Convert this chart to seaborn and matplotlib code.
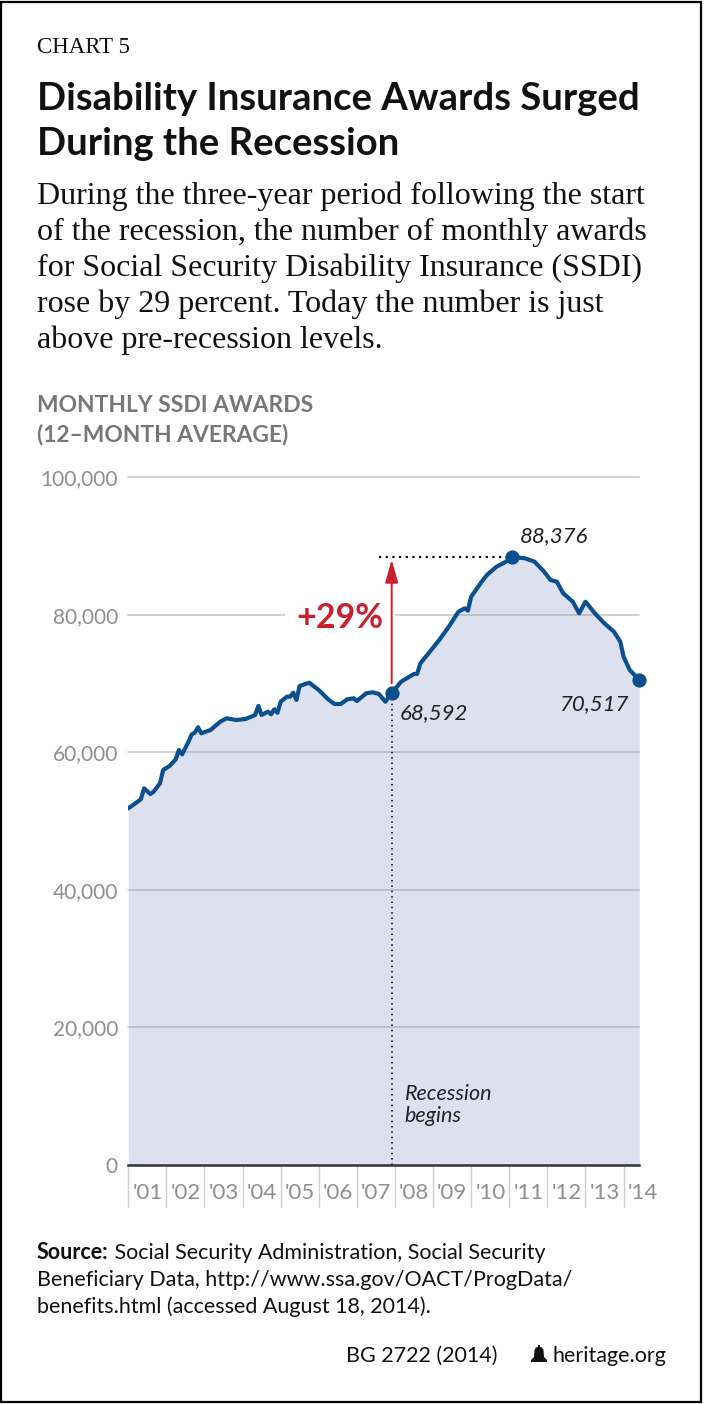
import pandas as pd
import matplotlib.pyplot as plt
import matplotlib.transforms as mtransforms
from matplotlib.patches import Rectangle, Polygon
import seaborn as sns

# monthly SSDI awards, 12-month average
months = ['2001-01', '2001-03', '2001-05', '2001-06', '2001-08', '2001-09', '2001-11', '2001-12',
          '2002-02', '2002-04', '2002-05', '2002-06', '2002-08', '2002-09', '2002-10', '2002-11', '2002-12',
          '2003-03', '2003-06', '2003-08', '2003-11',
          '2004-02', '2004-05', '2004-06', '2004-07', '2004-09', '2004-10', '2004-11', '2004-12',
          '2005-01', '2005-03', '2005-04', '2005-05', '2005-06', '2005-07', '2005-10',
          '2006-01', '2006-04', '2006-06', '2006-08', '2006-10', '2006-12',
          '2007-01', '2007-04', '2007-06', '2007-08', '2007-10', '2007-12',
          '2008-03', '2008-07', '2008-08', '2008-09', '2008-12',
          '2009-03', '2009-06', '2009-09', '2009-11', '2009-12',
          '2010-01', '2010-04', '2010-06', '2010-09', '2010-12',
          '2011-02', '2011-06', '2011-09', '2011-12',
          '2012-02', '2012-04', '2012-06', '2012-09', '2012-11',
          '2013-01', '2013-04', '2013-07', '2013-10', '2013-12',
          '2014-01', '2014-03', '2014-06']
awards = [51850, 52470, 53150, 54750, 53920, 54260, 55480, 57410,
          58000, 58970, 60320, 59690, 61520, 62600, 62840, 63620, 62750,
          63230, 64430, 64930, 64680,
          64830, 65410, 66720, 65410, 65890, 65510, 66240, 65740,
          67340, 68070, 68070, 68650, 67590, 69620, 70100,
          69040, 67690, 67010, 67010, 67690, 67830,
          67440, 68560, 68710, 68460, 67340, 68592,
          70250, 71370, 71370, 72920, 74610,
          76310, 78240, 80420, 80920, 80570,
          82600, 84550, 85760, 86960, 87690,
          88376, 88180, 87690, 86240,
          85030, 84780, 83100, 81880, 80190,
          81880, 80190, 78730, 77510, 76060,
          73880, 71950, 70517]

callout_months = ['2007-12', '2011-02', '2014-06']
callout_values = [68592, 88376, 70517]

years = list(range(2001, 2015))
year_labels = ["'" + str(y)[2:] for y in years]
y_ticks = [0, 20000, 40000, 60000, 80000, 100000]

sns.set_style('white')
plt.rcParams['font.family'] = ['Lato', 'DejaVu Sans']

W, H = 705, 1404
def fx(px):
    return px / W
def fy(px):
    return 1 - px / H

fig = plt.figure(figsize=(W / 100, H / 100), dpi=100)
fig.patch.set_facecolor('white')
ax = fig.add_axes([fx(128.3), fy(1165), fx(639.3) - fx(128.3), (1165 - 477) / H])

blue = '#0b4f8e'
fill = '#dde1ef'
red = '#c8202f'
grey = '#8f8f8f'
ink = '#111111'

data = pd.DataFrame({'month': pd.to_datetime(months), 'awards': awards})
calls = pd.DataFrame({'month': pd.to_datetime(callout_months), 'awards': callout_values})

ax.fill_between(data['month'], data['awards'], color=fill, lw=0, zorder=1)
for v in y_ticks[1:]:
    ax.axhline(v, color='#9a9a9a', alpha=0.45, lw=1.4, zorder=1.5, clip_on=False)
sns.lineplot(data=data, x='month', y='awards', color=blue, lw=3.0, ax=ax, zorder=3)
ax.scatter(calls['month'], calls['awards'], s=105, color=blue, zorder=5, clip_on=False, lw=0)

ax.set_xlim(data['month'].iloc[0], data['month'].iloc[-1])
ax.set_ylim(0, 100000)
ax.set_xlabel('')
ax.set_ylabel('')

# axes look
for side in ['top', 'right', 'left']:
    ax.spines[side].set_visible(False)
ax.spines['bottom'].set_color('#333333')
ax.spines['bottom'].set_linewidth(1.8)
ax.spines['bottom'].set_zorder(4)

ax.set_yticks(y_ticks)
ax.set_yticklabels([f'{v:,}' for v in y_ticks])
ax.tick_params(axis='y', length=0, pad=7.5, labelsize=15, labelcolor=grey)

year_dates = pd.to_datetime([f'{y}-01-01' for y in years])
ax.set_xticks(year_dates)
ax.set_xticklabels(year_labels, ha='left')
ax.tick_params(axis='x', length=0, pad=13, labelsize=16, labelcolor=grey)
shift = mtransforms.ScaledTranslation(4 / 100, 0, fig.dpi_scale_trans)
for lab in ax.get_xticklabels():
    lab.set_transform(lab.get_transform() + shift)
for d in year_dates:
    ax.axvline(d, ymin=-0.061, ymax=0, color='#cfcfcf', lw=1, clip_on=False)

# recession marker and +29% arrow
rec_month, rec_val = calls['month'].iloc[0], calls['awards'].iloc[0]
peak_month, peak_val = calls['month'].iloc[1], calls['awards'].iloc[1]
ax.vlines(rec_month, 0, rec_val, colors='black', linestyles=(0, (1, 2.5)), lw=1.1, zorder=2.6)
ax.hlines(peak_val, pd.Timestamp('2007-08-01'), peak_month, colors='black',
          linestyles=(0, (1, 2)), lw=1.6, zorder=2.6)
ax.annotate('', xy=(rec_month, peak_val), xytext=(rec_month, rec_val),
            arrowprops=dict(arrowstyle='-|>,head_length=0.7,head_width=0.2', color=red, lw=1.4,
                            mutation_scale=20, shrinkA=7, shrinkB=2), zorder=4)
ax.annotate('+29%', xy=(rec_month, 78000), xytext=(-8, 0), textcoords='offset pixels',
            ha='right', va='baseline', fontsize=24.5, fontweight='bold', color=red,
            bbox=dict(fc='white', ec='none', pad=8), zorder=1.8)

offsets = [(8, -26, 'left'), (7, 15, 'left'), (-10, -30, 'right')]
for (m, v), (dx, dy, ha) in zip(zip(calls['month'], calls['awards']), offsets):
    ax.annotate(f'{v:,}', xy=(m, v), xytext=(dx, dy), textcoords='offset pixels',
                ha=ha, va='baseline', fontsize=16, style='italic', color='#222222',
                annotation_clip=False)

ax.annotate('Recession', xy=(rec_month, 0), xytext=(13, 65), textcoords='offset pixels',
            ha='left', va='baseline', fontsize=15.5, style='italic', color='#222222')
ax.annotate('begins', xy=(rec_month, 0), xytext=(13, 43), textcoords='offset pixels',
            ha='left', va='baseline', fontsize=15.5, style='italic', color='#222222')

# header
fig.text(fx(37), fy(53), 'CHART 5', fontsize=16.5, family='Liberation Serif', color=ink)
fig.text(fx(37), fy(110), 'Disability Insurance Awards Surged', fontsize=27.5, fontweight='bold', color=ink)
fig.text(fx(37), fy(155), 'During the Recession', fontsize=27.5, fontweight='bold', color=ink)
body = ['During the three-year period following the start',
        'of the recession, the number of monthly awards',
        'for Social Security Disability Insurance (SSDI)',
        'rose by 29 percent. Today the number is just',
        'above pre-recession levels.']
for i, line in enumerate(body):
    fig.text(fx(37), fy(204 + i * 36), line, fontsize=23, family='Liberation Serif', color=ink)

fig.text(fx(37), fy(411.7), 'MONTHLY SSDI AWARDS', fontsize=16.4, fontweight='bold', color='#777777')
fig.text(fx(37), fy(441.7), '(12\u2013MONTH AVERAGE)', fontsize=16.4, fontweight='bold', color='#777777')

# source + footer
src = fig.text(fx(37), fy(1259), 'Source:', fontsize=15.5, fontweight='bold', color=ink)
plt.annotate(' Social Security Administration, Social Security', xy=(1, 0), xycoords=src,
             va='bottom', ha='left', fontsize=15.5, color=ink)
fig.text(fx(37), fy(1286), 'Beneficiary Data, http://www.ssa.gov/OACT/ProgData/', fontsize=15.5, color=ink)
fig.text(fx(37), fy(1313), 'benefits.html (accessed August 18, 2014).', fontsize=15.5, color=ink)

fig.text(fx(666), fy(1362), 'heritage.org', fontsize=15.5, ha='right', color=ink)
fig.text(fx(497), fy(1362), 'BG 2722 (2014)', fontsize=15.5, ha='right', color=ink)

cx = 539
bell = [(cx - 8, 1362), (cx + 8, 1362), (cx + 8, 1360), (cx + 5, 1357), (cx + 4.5, 1350),
        (cx + 3, 1347.5), (cx + 1, 1347), (cx + 1, 1345), (cx - 1, 1345), (cx - 1, 1347),
        (cx - 3, 1347.5), (cx - 4.5, 1350), (cx - 5, 1357), (cx - 8, 1360)]
fig.add_artist(Polygon([(fx(a), fy(b)) for a, b in bell], closed=True, transform=fig.transFigure,
                       fc=ink, ec='none'))

fig.add_artist(Rectangle((fx(1), fy(1402)), fx(700), (1402 - 2) / H, transform=fig.transFigure,
                         fill=False, ec='black', lw=1.6))

fig.savefig('out.png', dpi=100)
